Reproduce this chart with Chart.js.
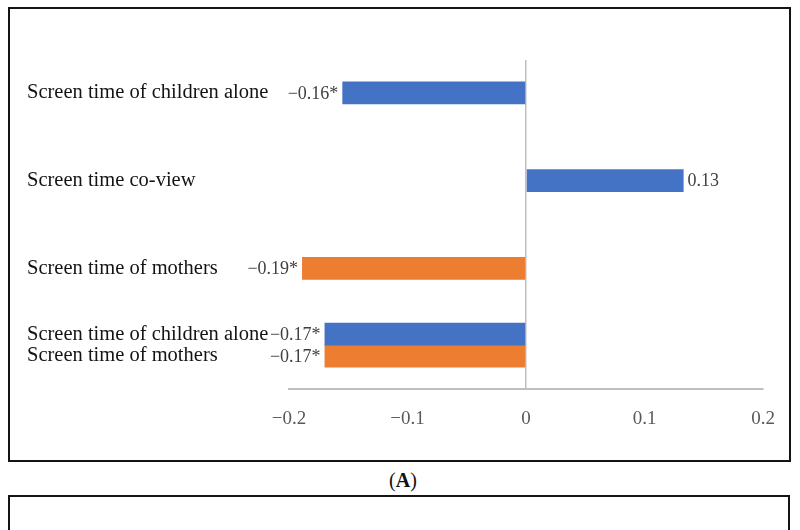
<!DOCTYPE html>
<html>
<head>
<meta charset="utf-8">
<script src="https://cdn.jsdelivr.net/npm/chart.js@4.4.1/dist/chart.umd.min.js"></script>
<style>
  html, body { margin: 0; padding: 0; background: #ffffff; width: 800px; height: 530px; overflow: hidden; }
  .box { position: absolute; border: 2px solid #141414; box-sizing: border-box; }
  #boxA { left: 8px; top: 7px; width: 783px; height: 455px; }
  #boxB { left: 8px; top: 495px; width: 782px; height: 80px; }
  #capA { position: absolute; left: 353px; width: 100px; top: 469px; text-align: center;
          font-family: "Liberation Serif", serif; font-size: 20px; color: #111; }
  #chart { position: absolute; left: 0; top: 0; }
</style>
</head>
<body>
<div class="box" id="boxA"></div>
<div id="capA">(<b>A</b>)</div>
<div class="box" id="boxB"></div>
<canvas id="chart" width="800" height="530"></canvas>
<script>
// Category slots (top to bottom); empty strings are spacing rows
const categories = ['', 'Screen time of children alone', '', '', '', 'Screen time co-view', '', '', '',
  'Screen time of mothers', '', '', 'Screen time of children alone', 'Screen time of mothers', ''];
// Blue series values (null = no bar)
const blueValues = [null, -0.155, null, null, null, 0.133, null, null, null, null, null, null, -0.17, null, null];
const blueLabels = [null, '\u22120.16*', null, null, null, '0.13', null, null, null, null, null, null, '\u22120.17*', null, null];
// Orange series values
const orangeValues = [null, null, null, null, null, null, null, null, null, -0.189, null, null, null, -0.17, null];
const orangeLabels = [null, null, null, null, null, null, null, null, null, '\u22120.19*', null, null, null, '\u22120.17*', null];
// X axis ticks
const xTickValues = [-0.2, -0.1, 0, 0.1, 0.2];
const xTickLabels = ['\u22120.2', '\u22120.1', '0', '0.1', '0.2'];

const SERIF = '"Liberation Serif", "Times New Roman", serif';

const valueLabelPlugin = {
  id: 'valueLabels',
  afterDatasetsDraw(chart) {
    const ctx = chart.ctx;
    ctx.save();
    ctx.font = '18px ' + SERIF;
    ctx.fillStyle = '#404040';
    ctx.textBaseline = 'middle';
    chart.data.datasets.forEach((ds, di) => {
      const meta = chart.getDatasetMeta(di);
      meta.data.forEach((bar, i) => {
        const v = ds.data[i];
        const lab = ds.valueLabels[i];
        if (v === null || lab === null) return;
        if (v < 0) {
          ctx.textAlign = 'right';
          ctx.fillText(lab, bar.x - 4, bar.y + 1);
        } else {
          ctx.textAlign = 'left';
          ctx.fillText(lab, bar.x + 4, bar.y + 1);
        }
      });
    });
    ctx.restore();
  }
};

new Chart(document.getElementById('chart'), {
  type: 'bar',
  data: {
    labels: categories,
    datasets: [
      { data: blueValues, valueLabels: blueLabels, backgroundColor: '#4472C4', grouped: false,
        barPercentage: 1.04, categoryPercentage: 1.0, borderWidth: 0 },
      { data: orangeValues, valueLabels: orangeLabels, backgroundColor: '#ED7D31', grouped: false,
        barPercentage: 1.04, categoryPercentage: 1.0, borderWidth: 0 }
    ]
  },
  options: {
    indexAxis: 'y',
    responsive: false,
    animation: false,
    devicePixelRatio: 1,
    layout: { padding: { top: 60, left: 27, right: 37, bottom: 101 } },
    plugins: { legend: { display: false }, tooltip: { enabled: false } },
    scales: {
      x: {
        type: 'linear',
        min: -0.2, max: 0.2,
        afterBuildTicks(scale) { scale.ticks = xTickValues.map(v => ({ value: v })); },
        afterFit(scale) { scale.height = 40; },
        grid: {
          drawTicks: false,
          color: (c) => (c.tick && c.tick.value === 0) ? '#BFBFBF' : 'rgba(0,0,0,0)',
          lineWidth: 1.5
        },
        border: { display: true, color: '#BFBFBF', width: 2 },
        ticks: {
          padding: 19,
          color: '#595959',
          font: { family: SERIF, size: 19 },
          callback: (v, i) => xTickLabels[i]
        }
      },
      y: {
        afterFit(scale) { scale.width = 262; },
        grid: { display: false },
        border: { display: false },
        ticks: {
          autoSkip: false,
          crossAlign: 'far',
          color: '#141414',
          font: { family: SERIF, size: 20.5 }
        }
      }
    }
  },
  plugins: [valueLabelPlugin]
});
</script>
</body>
</html>
